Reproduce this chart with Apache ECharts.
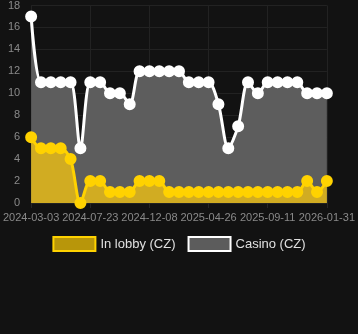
<!DOCTYPE html>
<html>
<head>
<meta charset="utf-8">
<style>
html,body{margin:0;padding:0;background:#121212;}
#chart{width:358px;height:334px;}
</style>
<script src="https://cdn.jsdelivr.net/npm/echarts@6/dist/echarts.min.js"></script>
</head>
<body>
<div id="chart"></div>
<script>
var categories = [
  '2024-03-03','2024-03-27','2024-04-19','2024-05-13','2024-06-06','2024-06-29',
  '2024-07-23','2024-08-15','2024-09-07','2024-09-30','2024-10-23','2024-11-15',
  '2024-12-08','2024-12-31','2025-01-23','2025-02-15','2025-03-10','2025-04-02',
  '2025-04-26','2025-05-19','2025-06-11','2025-07-04','2025-07-27','2025-08-19',
  '2025-09-11','2025-10-05','2025-10-29','2025-11-21','2025-12-15','2026-01-07',
  '2026-01-31'
];
var lobbyValues = [6,5,5,5,4,0,2,2,1,1,1,2,2,2,1,1,1,1,1,1,1,1,1,1,1,1,1,1,2,1,2];
var casinoValues = [17,11,11,11,11,5,11,11,10,10,9,12,12,12,12,12,11,11,11,9,5,7,11,10,11,11,11,11,10,10,10];
var seriesNames = ['In lobby (CZ)', 'Casino (CZ)'];

var chart = echarts.init(document.getElementById('chart'), null, {renderer: 'canvas'});
chart.setOption({
  backgroundColor: '#121212',
  animation: false,
  grid: {left: 31, right: 29, top: 5, bottom: 131},
  legend: {
    data: [
      {name: seriesNames[0], icon: 'rect', itemStyle: {color: '#b8960a', borderColor: '#ffd200', borderWidth: 2}},
      {name: seriesNames[1], icon: 'rect', itemStyle: {color: '#5c5c5c', borderColor: '#ffffff', borderWidth: 2}}
    ],
    bottom: 77,
    left: 'center',
    itemWidth: 42,
    itemHeight: 14,
    itemGap: 12,
    textStyle: {color: '#e0e0e0', fontSize: 13, fontFamily: 'Liberation Sans, Arial, sans-serif'}
  },
  xAxis: {
    type: 'category',
    data: categories,
    boundaryGap: false,
    axisLine: {show: false},
    axisTick: {show: true, interval: 5, length: 5, lineStyle: {color: '#262626'}},
    axisLabel: {interval: 5, color: '#8a8a8a', fontSize: 11, margin: 9, fontFamily: 'Liberation Sans, Arial, sans-serif'},
    splitLine: {show: true, interval: 5, lineStyle: {color: '#222'}}
  },
  yAxis: {
    type: 'value',
    min: 0,
    max: 18,
    interval: 2,
    axisLine: {show: false},
    axisTick: {show: false},
    axisLabel: {color: '#8a8a8a', fontSize: 11, margin: 11, fontFamily: 'Liberation Sans, Arial, sans-serif'},
    splitLine: {lineStyle: {color: '#222'}}
  },
  series: [
    {
      name: seriesNames[1],
      type: 'line',
      data: casinoValues,
      smooth: 0.3,
      symbol: 'circle',
      symbolSize: 10,
      showAllSymbol: true,
      lineStyle: {color: '#ffffff', width: 3},
      itemStyle: {color: '#ffffff', borderColor: '#ffffff', borderWidth: 2},
      areaStyle: {color: '#5d5d5d', opacity: 1},
      z: 2
    },
    {
      name: seriesNames[0],
      type: 'line',
      data: lobbyValues,
      smooth: 0.3,
      symbol: 'circle',
      symbolSize: 10,
      showAllSymbol: true,
      lineStyle: {color: '#ffd200', width: 3},
      itemStyle: {color: '#ffd200', borderColor: '#ffd200', borderWidth: 2},
      areaStyle: {color: '#d1ac22', opacity: 1},
      z: 3
    }
  ]
});
</script>
</body>
</html>
